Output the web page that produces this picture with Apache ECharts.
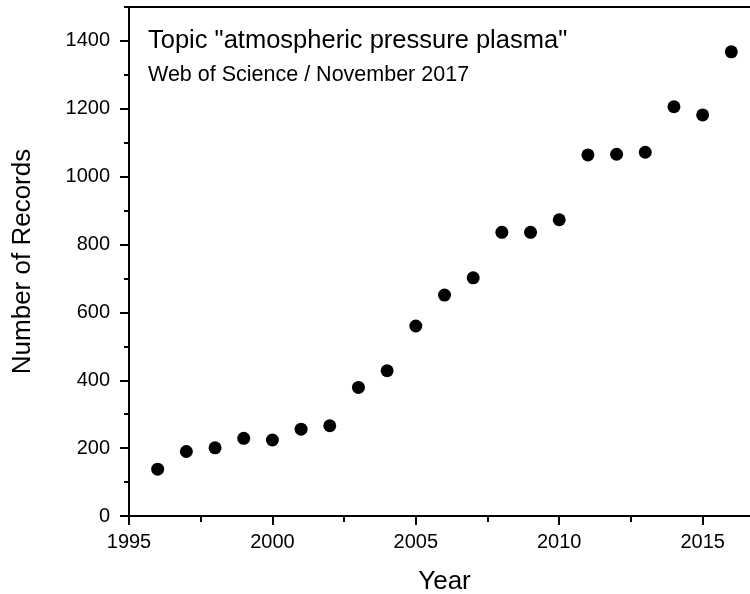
<!DOCTYPE html>
<html>
<head>
<meta charset="utf-8">
<script src="https://cdn.jsdelivr.net/npm/echarts@6/dist/echarts.min.js"></script>
<style>
html,body{margin:0;padding:0;background:#fff;}
#chart{width:750px;height:594px;}
</style>
</head>
<body>
<div id="chart"></div>
<script>
const years = [1996,1997,1998,1999,2000,2001,2002,2003,2004,2005,2006,2007,2008,2009,2010,2011,2012,2013,2014,2015,2016];
const records = [138,190,201,229,224,256,266,379,428,560,651,702,836,836,873,1064,1066,1072,1206,1182,1368];
const xMajorTicks = [1995,2000,2005,2010,2015];
const xMinorTicks = [1997.5,2002.5,2007.5,2012.5];
const yMajorTicks = [0,200,400,600,800,1000,1200,1400];
const yMinorTicks = [100,300,500,700,900,1100,1300,1500];
const titleText = 'Topic "atmospheric pressure plasma"';
const subtitleText = 'Web of Science / November 2017';
const xName = 'Year';
const yName = 'Number of Records';

const FONT = '"Liberation Sans", Arial, sans-serif';
const chart = echarts.init(document.getElementById('chart'), null, {renderer:'canvas'});
const axisLineStyle = {color:'#000', width:2};
const plain = v => String(v);
chart.setOption({
  animation:false,
  backgroundColor:'#fff',
  title:[
    {text:titleText, left:148, top:28, padding:0, textStyle:{fontFamily:FONT, fontSize:25.5, fontWeight:'normal', color:'#000'}},
    {text:subtitleText, left:148, top:64, padding:0, textStyle:{fontFamily:FONT, fontSize:21.5, fontWeight:'normal', color:'#000'}}
  ],
  grid:{left:129, top:7, width:631, height:509, containLabel:false, outerBoundsMode:'none'},
  xAxis:[
    {type:'value', min:1995, max:2017, interval:5, position:'bottom',
     axisLine:{show:true, onZero:false, lineStyle:axisLineStyle},
     axisTick:{show:true, length:9, lineStyle:{color:'#000', width:2}, customValues:xMajorTicks},
     axisLabel:{show:true, customValues:xMajorTicks, formatter:plain, fontSize:20, color:'#000', fontFamily:FONT, margin:16},
     splitLine:{show:false},
     name:xName, nameLocation:'middle', nameGap:53,
     nameTextStyle:{fontSize:26, color:'#000', fontFamily:FONT}},
    {type:'value', min:1995, max:2017, position:'bottom',
     axisLine:{show:false},
     axisTick:{show:true, length:6, lineStyle:{color:'#000', width:2}, customValues:xMinorTicks},
     axisLabel:{show:false}, splitLine:{show:false}},
    {type:'value', min:1995, max:2017, position:'top',
     axisLine:{show:true, onZero:false, lineStyle:axisLineStyle},
     axisTick:{show:false}, axisLabel:{show:false}, splitLine:{show:false}}
  ],
  yAxis:[
    {type:'value', min:0, max:1500, interval:200, position:'left',
     axisLine:{show:true, onZero:false, lineStyle:axisLineStyle},
     axisTick:{show:true, length:9, lineStyle:{color:'#000', width:2}, customValues:yMajorTicks},
     axisLabel:{show:true, customValues:yMajorTicks, formatter:plain, fontSize:20, color:'#000', fontFamily:FONT, margin:19},
     splitLine:{show:false},
     name:yName, nameLocation:'middle', nameGap:93, nameRotate:90,
     nameTextStyle:{fontSize:26, color:'#000', fontFamily:FONT}},
    {type:'value', min:0, max:1500, position:'left',
     axisLine:{show:false},
     axisTick:{show:true, length:5, lineStyle:{color:'#000', width:2}, customValues:yMinorTicks},
     axisLabel:{show:false}, splitLine:{show:false}}
  ],
  series:[{
    type:'scatter', xAxisIndex:0, yAxisIndex:0,
    symbol:'circle', symbolSize:13,
    itemStyle:{color:'#000', opacity:1},
    data: years.map((y,i)=>[y, records[i]])
  }]
});
</script>
</body>
</html>
